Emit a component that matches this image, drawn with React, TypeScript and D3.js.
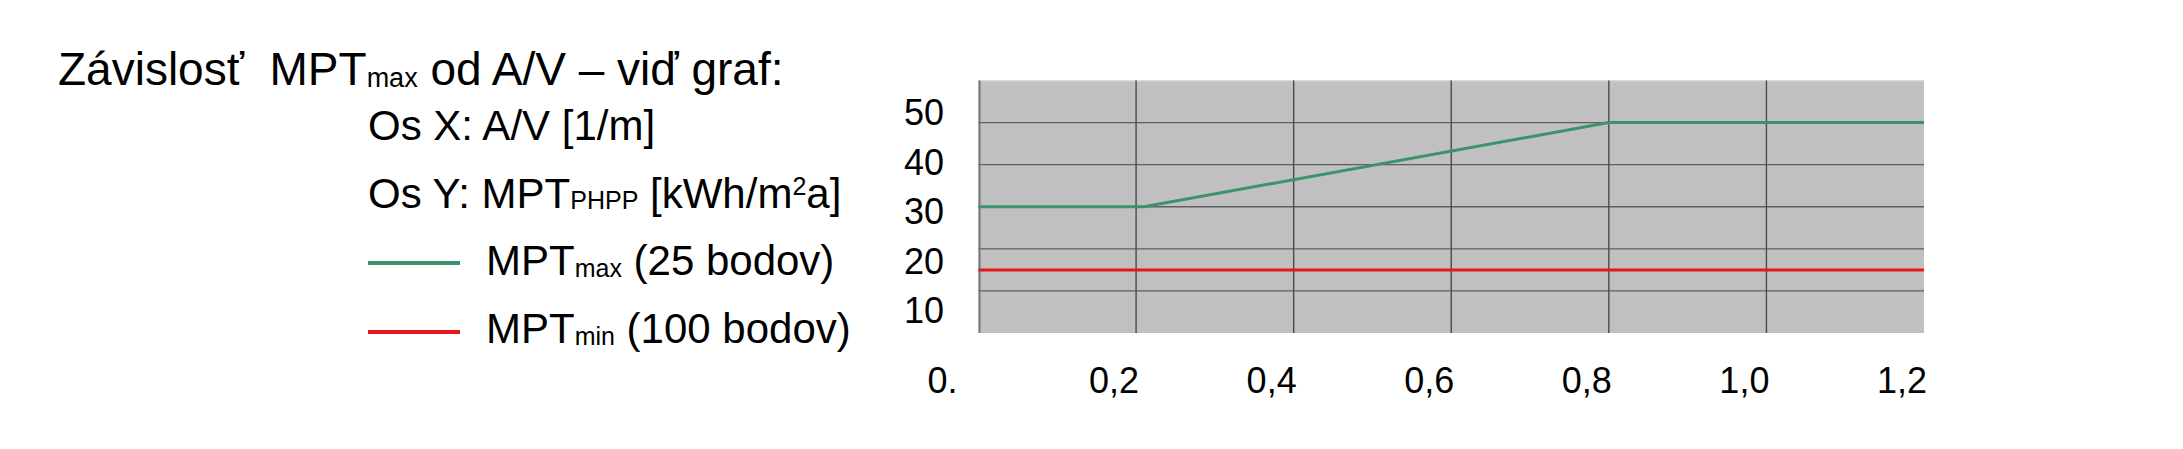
import React from "react";
import * as d3 from "d3";

const W = 2183;
const H = 449;

// Data
const xTicks = [0, 0.2, 0.4, 0.6, 0.8, 1.0, 1.2];
const xTickLabels = ["0.", "0,2", "0,4", "0,6", "0,8", "1,0", "1,2"];
const yGrid = [10, 20, 30, 40, 50];
const yTickLabels = ["10", "20", "30", "40", "50"];
const mptMaxX = [0, 0.21, 0.8, 1.2];
const mptMaxY = [30, 30, 50, 50];
const mptMinX = [0, 1.2];
const mptMinY = [15, 15];

const GREEN = "#3a9369";
const RED = "#e8161b";
const FONT = "'Liberation Sans', Arial, sans-serif";

export default function App() {
  const left = 978.5;
  const right = 1924;
  const top = 80.5;
  const bottom = 333;

  const x = d3.scaleLinear().domain([0, 1.2]).range([left, right]);
  const y = d3.scaleLinear().domain([0, 60]).range([bottom, top]);
  // the y labels sit in their own text boxes, spaced independently of the grid
  const yLab = d3.scaleLinear().domain([10, 50]).range([323, 125]);

  const line = d3
    .line<[number, number]>()
    .x((d) => x(d[0]))
    .y((d) => y(d[1]));

  const maxPts: [number, number][] = mptMaxX.map((v, i) => [v, mptMaxY[i]]);
  const minPts: [number, number][] = mptMinX.map((v, i) => [v, mptMinY[i]]);

  const txt = { fontFamily: FONT, fill: "#000", whiteSpace: "pre" as const };

  return (
    <svg
      width={W}
      height={H}
      style={{ position: "absolute", left: 0, top: 0, background: "#fff" }}
    >
      {/* Title and legend block */}
      <text x={58} y={85} fontSize={46} style={txt}>
        {"Závislosť  MPT"}
        <tspan fontSize={27} dy={2}>max</tspan>
        <tspan dy={-2}>{" od A/V – viď graf:"}</tspan>
      </text>
      <text x={368} y={140} fontSize={42} style={txt}>
        Os X: A/V [1/m]
      </text>
      <text x={368} y={208} fontSize={42} style={txt}>
        {"Os Y: MPT"}
        <tspan fontSize={25} dy={1}>PHPP</tspan>
        <tspan dy={-1}>{" [kWh/m"}</tspan>
        <tspan fontSize={25} dy={-13}>2</tspan>
        <tspan dy={13}>a]</tspan>
      </text>
      <line x1={368} x2={460} y1={263} y2={263} stroke={GREEN} strokeWidth={4} />
      <text x={486} y={275} fontSize={42} style={txt}>
        {"MPT"}
        <tspan fontSize={25} dy={2}>max</tspan>
        <tspan dy={-2}>{" (25 bodov)"}</tspan>
      </text>
      <line x1={368} x2={460} y1={332} y2={332} stroke={RED} strokeWidth={4} />
      <text x={486} y={343} fontSize={42} style={txt}>
        {"MPT"}
        <tspan fontSize={25} dy={2}>min</tspan>
        <tspan dy={-2}>{" (100 bodov)"}</tspan>
      </text>

      {/* Plot background */}
      <rect x={left} y={top} width={right - left} height={bottom - top} fill="#c0c0c0" />
      <line x1={left} x2={right} y1={top + 0.5} y2={top + 0.5} stroke="#d4d4d4" strokeWidth={1} />

      {/* Horizontal grid */}
      {yGrid.map((v) => (
        <line
          key={"h" + v}
          x1={left}
          x2={right}
          y1={y(v)}
          y2={y(v)}
          stroke="#5e5e5e"
          strokeWidth={1.3}
        />
      ))}
      {/* Vertical grid */}
      {xTicks.slice(1, -1).map((v) => (
        <line
          key={"v" + v}
          x1={x(v)}
          x2={x(v)}
          y1={top}
          y2={bottom}
          stroke="#4a4a4a"
          strokeWidth={1.4}
        />
      ))}
      <line x1={left + 1} x2={left + 1} y1={top} y2={bottom} stroke="#777" strokeWidth={2} />

      {/* Series */}
      <path d={line(minPts) || ""} fill="none" stroke={RED} strokeWidth={3} />
      <path d={line(maxPts) || ""} fill="none" stroke={GREEN} strokeWidth={3} />

      {/* Y labels */}
      {yGrid.map((v, i) => (
        <text
          key={"yl" + v}
          x={944}
          y={yLab(v)}
          fontSize={36}
          textAnchor="end"
          style={txt}
        >
          {yTickLabels[i]}
        </text>
      ))}

      {/* X labels */}
      {xTicks.map((v, i) => (
        <text
          key={"xl" + v}
          x={x(v) + (i === 0 ? -21 : 3)}
          y={393}
          fontSize={36}
          textAnchor="end"
          style={txt}
        >
          {xTickLabels[i]}
        </text>
      ))}
    </svg>
  );
}
